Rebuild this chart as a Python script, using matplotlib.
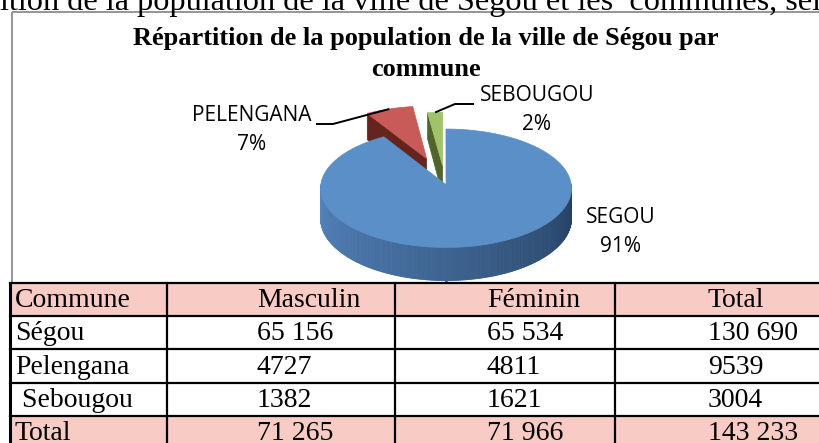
import numpy as np
import matplotlib.pyplot as plt
from matplotlib.patches import Rectangle, Polygon
from matplotlib.collections import PolyCollection
from matplotlib.colors import to_rgb

# --- data ---
communes = ["Ségou", "Pelengana", " Sebougou"]
pie_labels = ["SEGOU", "PELENGANA", "SEBOUGOU"]
masculin = [65156, 4727, 1382]
feminin = [65534, 4811, 1621]
total = [130690, 9539, 3004]
header = ["Commune", "Masculin", "Féminin", "Total"]
total_row = ["Total", 71265, 71966, 143233]

chart_title = "Répartition de la population de la ville de Ségou par\ncommune"
doc_text = "tition de la population de la ville de Ségou et les  communes, selon le sexe"

# --- style ---
top_colors = ["#5B8FC7", "#C85B57", "#A0C36A"]
cut_colors = ["#2E4E75", "#66241F", "#50652B"]
side_light = np.array(to_rgb("#5585BE"))
side_dark = np.array(to_rgb("#213C5B"))
explode = [0.03, 0.45, 0.3]
pink = "#F8CBC5"

serif = "Liberation Serif"
sans = "Open Sans"

# pie geometry (pixels)
CX, CY = 445, 183
RX, RY = 125, 59
K = 0.06        # perspective
D, KD = 30, 0.1  # depth


def proj(u, v):
    p = 1 - K * v
    return CX + RX * u * p, CY - RY * v * p


def proj_bottom(u, v):
    x, y = proj(u, v)
    return x, y + D * (1 - KD * v)


def fmt(n):
    return f"{n:,}".replace(",", " ") if n >= 10000 else str(n)


fig = plt.figure(figsize=(8.2, 4.43), dpi=100)
ax = fig.add_axes([0, 0, 1, 1])
ax.set_xlim(0, 820)
ax.set_ylim(443, 0)
ax.axis("off")

# document text cut at the top
ax.text(-9, 10, doc_text, fontsize=23.2, family=serif, va="baseline", ha="left")

# chart frame
ax.add_patch(Rectangle((12, 12), 900, 271, fill=False, edgecolor="#8C8C8C", lw=1.3))
ax.text(426, 54, chart_title, fontsize=19, family=serif, weight="bold",
        ha="center", va="center", linespacing=1.4)

# --- 3D pie ---
fracs = np.array(total) / sum(total)
bounds = np.concatenate([[0], np.cumsum(fracs) * 360])
slices = []
for i in range(len(total)):
    a0, a1 = bounds[i], bounds[i + 1]
    mid = np.radians((a0 + a1) / 2)
    ou, ov = explode[i] * np.sin(mid), explode[i] * np.cos(mid)
    slices.append((a0, a1, ou, ov, ov + np.cos(mid)))

order = sorted(range(len(slices)), key=lambda i: -slices[i][4])
for i in order:
    a0, a1, ou, ov, _ = slices[i]
    t = np.radians(np.linspace(a0, a1, 200))
    us, vs = ou + np.sin(t), ov + np.cos(t)

    # cut faces
    for ang, sgn in ((a0, -1), (a1, 1)):
        nrm = np.radians(ang + sgn * 90)
        if np.cos(nrm) < -0.01:
            ue, ve = ou + np.sin(np.radians(ang)), ov + np.cos(np.radians(ang))
            pts = [proj(ou, ov), proj(ue, ve), proj_bottom(ue, ve), proj_bottom(ou, ov)]
            ax.add_patch(Polygon(pts, closed=True, facecolor=cut_colors[i],
                                 edgecolor=cut_colors[i], lw=0.5))

    # outer side (front half only)
    lo, hi = max(a0, 90), min(a1, 270)
    if hi > lo:
        ts = np.radians(np.linspace(lo, hi, 220))
        quads, cols = [], []
        for j in range(len(ts) - 1):
            ua, va = ou + np.sin(ts[j]), ov + np.cos(ts[j])
            ub, vb = ou + np.sin(ts[j + 1]), ov + np.cos(ts[j + 1])
            quads.append([proj(ua, va), proj(ub, vb), proj_bottom(ub, vb), proj_bottom(ua, va)])
            f = (np.degrees(ts[j]) - 90) / 180
            c = side_dark + (side_light - side_dark) * f ** 0.9
            cols.append(c)
        ax.add_collection(PolyCollection(quads, facecolors=cols, edgecolors=cols, lw=0.6))

    # top face
    pts = [proj(ou, ov)] + [proj(a, b) for a, b in zip(us, vs)]
    ax.add_patch(Polygon(pts, closed=True, facecolor=top_colors[i],
                         edgecolor=top_colors[i], lw=0.5))

# labels
pct = [f"{round(f * 100)}%" for f in fracs]
label_pos = [(621, 232), (252, 130), (537, 110)]
for i, (lx, ly) in enumerate(label_pos):
    ax.text(lx, ly, f"{pie_labels[i]}\n{pct[i]}", fontsize=15, family=sans,
            ha="center", va="center", linespacing=1.45)

# leader lines
for i, x0, kx, yl in [(1, 316, 333, 124), (2, 474, 455, 104)]:
    a0, a1, ou, ov, _ = slices[i]
    mid = np.radians((a0 + a1) / 2)
    ex, ey = proj(ou + np.sin(mid), ov + np.cos(mid))
    ax.plot([x0, kx, ex], [yl, yl, ey], color="black", lw=1.4,
            solid_capstyle="butt")

# --- table ---
col_edges = [10, 167, 395, 615, 860]
row_edges = [283, 316, 349, 383, 416, 449]
text_x = [15, 257, 487, 708]
rows = [header] + [[c, fmt(m), fmt(f), fmt(t)] for c, m, f, t in zip(communes, masculin, feminin, total)]
rows.append([total_row[0]] + [fmt(v) for v in total_row[1:]])

for r, row in enumerate(rows):
    y0, y1 = row_edges[r], row_edges[r + 1]
    if r == 0 or r == len(rows) - 1:
        ax.add_patch(Rectangle((col_edges[0], y0), col_edges[-1] - col_edges[0], y1 - y0,
                               facecolor=pink, edgecolor="none"))
    for c, txt in enumerate(row):
        ax.text(text_x[c], (y0 + y1) / 2 + 1, txt, fontsize=20, family=serif,
                ha="left", va="center")

for y in row_edges:
    ax.plot([col_edges[0], col_edges[-1]], [y, y], color="black", lw=1.6)
for x in col_edges:
    ax.plot([x, x], [row_edges[0], row_edges[-1]], color="black",
            lw=2.2 if x == col_edges[0] else 1.6)

fig.savefig("out.png", dpi=100)
